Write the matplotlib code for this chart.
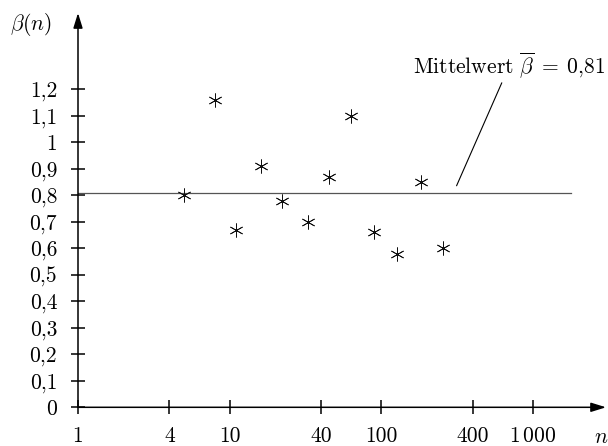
import matplotlib
matplotlib.use("Agg")
import matplotlib.pyplot as plt
from matplotlib.ticker import FixedLocator, FixedFormatter, NullLocator

plt.rcParams['font.family'] = 'serif'
plt.rcParams['font.serif'] = ['cmr10']
plt.rcParams['mathtext.fontset'] = 'cm'
plt.rcParams['axes.unicode_minus'] = False

# data
n_values = [5, 8, 11, 16, 22, 33, 45, 63, 90, 127, 182, 256]
beta_values = [0.80, 1.16, 0.67, 0.91, 0.78, 0.70, 0.87, 1.10, 0.66, 0.58, 0.85, 0.60]
mean_beta = 0.81
mean_extent = [1, 1780]
x_ticks = [1, 4, 10, 40, 100, 400, 1000]
x_tick_labels = ["1", "4", "10", "40", "100", "400", r"$1\,000$"]
y_ticks = [0, 0.1, 0.2, 0.3, 0.4, 0.5, 0.6, 0.7, 0.8, 0.9, 1.0, 1.1, 1.2]
y_tick_labels = ["0", "0,1", "0,2", "0,3", "0,4", "0,5", "0,6", "0,7", "0,8", "0,9", "1", "1,1", "1,2"]

FS = 15.5
W, H = 608, 446
fig = plt.figure(figsize=(W / 100, H / 100), dpi=100)
x0, x1 = 78, 606
y0, y1 = 407.3, 13
ax = fig.add_axes([x0 / W, (H - y0) / H, (x1 - x0) / W, (y0 - y1) / H])
ax.set_xscale('log')
px_per_decade = 151.7
ax.set_xlim(1, 10 ** ((x1 - x0) / px_per_decade))
ax.set_ylim(0, (y0 - y1) / 265.0)

for s in ax.spines.values():
    s.set_visible(False)

# axes with arrows
arrow = dict(arrowstyle='-|>,head_length=0.9,head_width=0.28', color='black', lw=1.1,
             shrinkA=0, shrinkB=0)
ax.annotate('', xy=(1, 0), xycoords='axes fraction', xytext=(0, 0), arrowprops=arrow)
ax.annotate('', xy=(0, 1), xycoords='axes fraction', xytext=(0, 0), arrowprops=arrow)

ax.xaxis.set_major_locator(FixedLocator(x_ticks))
ax.xaxis.set_major_formatter(FixedFormatter(x_tick_labels))
ax.xaxis.set_minor_locator(NullLocator())
ax.yaxis.set_major_locator(FixedLocator(y_ticks))
ax.yaxis.set_major_formatter(FixedFormatter(y_tick_labels))
ax.tick_params(axis='both', direction='inout', length=10, width=1.1, labelsize=FS, colors='black')
ax.tick_params(axis='x', pad=9)
ax.tick_params(axis='y', pad=10)

# mean line
ax.plot(mean_extent, [mean_beta, mean_beta], color='#555555', lw=0.9, zorder=2)

# data points
ax.plot(n_values, beta_values, linestyle='none', marker=(6, 2, 0), markersize=10,
        markeredgewidth=0.6, color='#111111', zorder=3)

# annotation
ax.annotate(r"Mittelwert $\overline{\beta}\;=\;0$,81", xy=(313, 0.836), xytext=(700, 1.235),
            textcoords='data', ha='center', va='bottom', fontsize=FS,
            arrowprops=dict(arrowstyle='-', color='black', lw=0.8, shrinkA=0, shrinkB=0),
            annotation_clip=False)

fig.text(10 / W, 1 - 25 / H, r"$\beta(n)$", fontsize=FS, ha='left', va='center')
fig.text(594 / W, 1 - 437 / H, r"$n$", fontsize=FS, ha='left', va='center')

fig.savefig("out.png", dpi=100)
